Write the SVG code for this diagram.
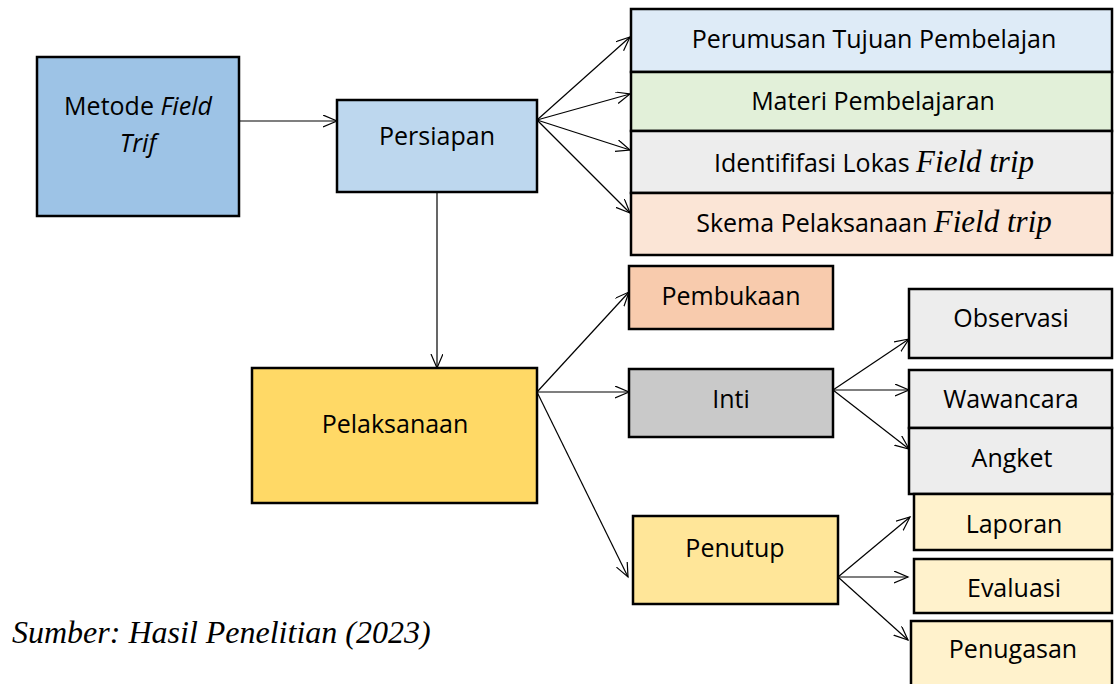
<svg xmlns="http://www.w3.org/2000/svg" width="1114" height="684" viewBox="0 0 1114 684">
<defs>
<marker id="arr" markerUnits="userSpaceOnUse" markerWidth="16" markerHeight="14" refX="14" refY="6" orient="auto">
<path d="M0,0 L14,6 L0,12" fill="none" stroke="#000" stroke-width="1.2"/>
</marker>
<style>
.b{stroke:#000;stroke-width:2.5}
.t{font-family:"Open Sans","Liberation Sans",sans-serif;font-size:25px;fill:#000;text-anchor:middle}
.ti{font-family:"Liberation Serif",serif;font-style:italic;font-size:31px}
.c{stroke:#000;stroke-width:1.2;fill:none;marker-end:url(#arr)}
</style>
</defs>
<rect width="1114" height="684" fill="#fff"/>
<g id="connectors">
<line class="c" x1="239" y1="121" x2="337" y2="121"/>
<line class="c" x1="437" y1="192" x2="437" y2="368"/>
<line class="c" x1="537" y1="120" x2="630" y2="37"/>
<line class="c" x1="537" y1="120" x2="630" y2="94"/>
<line class="c" x1="537" y1="120" x2="630" y2="150"/>
<line class="c" x1="537" y1="120" x2="630" y2="213"/>
<line class="c" x1="537" y1="392" x2="629" y2="292"/>
<line class="c" x1="537" y1="392" x2="629" y2="392"/>
<line class="c" x1="537" y1="392" x2="628" y2="577"/>
<line class="c" x1="833" y1="390" x2="909" y2="339"/>
<line class="c" x1="833" y1="390" x2="909" y2="390"/>
<line class="c" x1="833" y1="390" x2="909" y2="449"/>
<line class="c" x1="838" y1="577" x2="910" y2="517"/>
<line class="c" x1="838" y1="577" x2="908" y2="577"/>
<line class="c" x1="838" y1="577" x2="908" y2="640"/>
</g>
<g id="metode">
<rect class="b" x="37" y="57" width="202" height="159" fill="#9DC3E6"/>
<text class="t" x="138" y="115">Metode <tspan font-style="italic">Field</tspan></text>
<text class="t" x="138" y="152" font-style="italic">Trif</text>
</g>
<g id="persiapan">
<rect class="b" x="337" y="100" width="200" height="92" fill="#BDD7EE"/>
<text class="t" x="437" y="145">Persiapan</text>
</g>
<g id="perumusan">
<rect class="b" x="631" y="9" width="481" height="63" fill="#DEEBF7"/>
<text class="t" x="874" y="48">Perumusan Tujuan Pembelajan</text>
</g>
<g id="materi">
<rect class="b" x="631" y="72" width="481" height="59" fill="#E2F0D9"/>
<text class="t" x="873" y="110">Materi Pembelajaran</text>
</g>
<g id="identifikasi">
<rect class="b" x="631" y="131" width="481" height="62" fill="#EDEDED"/>
<text class="t" x="874" y="172">Identififasi Lokas <tspan class="ti">Field trip</tspan></text>
</g>
<g id="skema">
<rect class="b" x="631" y="193" width="481" height="62" fill="#FBE5D6"/>
<text class="t" x="874" y="232">Skema Pelaksanaan <tspan class="ti">Field trip</tspan></text>
</g>
<g id="pembukaan">
<rect class="b" x="629" y="266" width="204" height="63" fill="#F8CBAD"/>
<text class="t" x="731" y="305">Pembukaan</text>
</g>
<g id="inti">
<rect class="b" x="629" y="369" width="204" height="68" fill="#C9C9C9"/>
<text class="t" x="731" y="408">Inti</text>
</g>
<g id="observasi">
<rect class="b" x="909" y="289" width="203" height="69" fill="#EDEDED"/>
<text class="t" x="1011" y="327">Observasi</text>
</g>
<g id="wawancara">
<rect class="b" x="909" y="370" width="203" height="58" fill="#EDEDED"/>
<text class="t" x="1011" y="408">Wawancara</text>
</g>
<g id="angket">
<rect class="b" x="909" y="428" width="203" height="66" fill="#EDEDED"/>
<text class="t" x="1012" y="467">Angket</text>
</g>
<g id="pelaksanaan">
<rect class="b" x="252" y="368" width="285" height="135" fill="#FFD966"/>
<text class="t" x="395" y="433">Pelaksanaan</text>
</g>
<g id="penutup">
<rect class="b" x="633" y="516" width="205" height="88" fill="#FFE699"/>
<text class="t" x="735" y="557">Penutup</text>
</g>
<g id="laporan">
<rect class="b" x="914" y="494" width="198" height="56" fill="#FFF2CC"/>
<text class="t" x="1014" y="533">Laporan</text>
</g>
<g id="evaluasi">
<rect class="b" x="914" y="559" width="198" height="54" fill="#FFF2CC"/>
<text class="t" x="1014" y="597">Evaluasi</text>
</g>
<g id="penugasan">
<rect class="b" x="911" y="621" width="201" height="70" fill="#FFF2CC"/>
<text class="t" x="1013" y="658">Penugasan</text>
</g>
<text x="12" y="643" font-family="Liberation Serif, serif" font-style="italic" font-size="32" fill="#000">Sumber: Hasil Penelitian (2023)</text>
</svg>
